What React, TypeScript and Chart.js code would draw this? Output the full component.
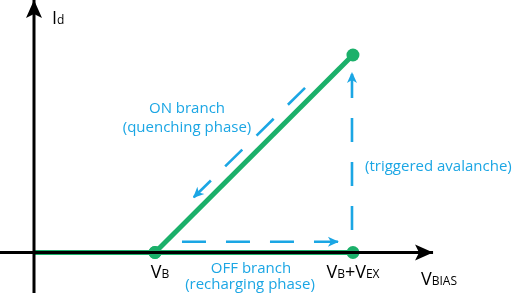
import React, { useEffect, useRef } from 'react';
import { Chart, registerables } from 'chart.js';

Chart.register(...registerables);

// ---- data (bias voltage in units of V_B, current in same plot units) ----
const V_B = 1.0;
const V_B_PLUS_EX = 2.636;
const I_TOP = 1.632;

const offBranchX = [0, V_B, V_B_PLUS_EX];
const offBranchY = [0, 0, 0];
const onBranchX = [V_B, V_B_PLUS_EX];
const onBranchY = [0, I_TOP];

const xAxisLineX = [-0.29, 3.298];
const xAxisLineY = [0, 0];
const yAxisLineX = [0, 0];
const yAxisLineY = [-0.335, 2.087];

const rechargeArrowX = [1.223, 2.52];
const rechargeArrowY = [0.089, 0.089];
const avalancheArrowX = [2.628, 2.628];
const avalancheArrowY = [0.186, 1.492];
const quenchArrowX = [2.24, 1.314];
const quenchArrowY = [1.36, 0.45];

const onLabel = ['ON branch', '(quenching phase)'];
const offLabel = ['OFF branch', '(recharging phase)'];
const avalancheLabel = '(triggered avalanche)';
const vbLabel = [['V', 'main'], ['B', 'sub']];
const vbexLabel = [['V', 'main'], ['B', 'sub'], ['+', 'main'], ['V', 'main'], ['EX', 'sub']];
const vbiasLabel = [['V', 'main'], ['BIAS', 'sub']];
const idLabel = [['I', 'main'], ['d', 'sub']];

const X_MIN = -34 / 121;
const X_MAX = 478 / 121;
const Y_MIN = -43.5 / 121;
const Y_MAX = 252.5 / 121;

const GREEN = '#1bb06a';
const BLUE = '#1ba6e4';
const BLACK = '#000000';
const FONT = '"Open Sans", "Noto Sans", sans-serif';

const pts = (xs: number[], ys: number[]) => xs.map((x, i) => ({ x, y: ys[i] }));

function drawArrowHead(ctx: CanvasRenderingContext2D, x0: number, y0: number, x1: number, y1: number, len: number, half: number, notch: number, color: string) {
  const a = Math.atan2(y1 - y0, x1 - x0);
  ctx.save();
  ctx.translate(x1, y1);
  ctx.rotate(a);
  ctx.beginPath();
  ctx.moveTo(0, 0);
  ctx.lineTo(-len, -half);
  ctx.lineTo(-len + notch, 0);
  ctx.lineTo(-len, half);
  ctx.closePath();
  ctx.fillStyle = color;
  ctx.fill();
  ctx.restore();
}

function drawParts(ctx: CanvasRenderingContext2D, parts: string[][], x: number, baseline: number, align: 'left' | 'center', mainSize: number, subSize: number, color: string) {
  const fontOf = (k: string) => `${k === 'main' ? mainSize : subSize}px ${FONT}`;
  let total = 0;
  for (const [t, k] of parts) {
    ctx.font = fontOf(k);
    total += ctx.measureText(t).width;
  }
  let cx = align === 'center' ? x - total / 2 : x;
  ctx.fillStyle = color;
  ctx.textBaseline = 'alphabetic';
  ctx.textAlign = 'left';
  for (const [t, k] of parts) {
    ctx.font = fontOf(k);
    ctx.fillText(t, cx, baseline);
    cx += ctx.measureText(t).width;
  }
}

const arrowPlugin = {
  id: 'arrowHeads',
  afterDatasetsDraw(chart: any) {
    const ctx = chart.ctx as CanvasRenderingContext2D;
    chart.data.datasets.forEach((ds: any, i: number) => {
      if (!ds.arrowHead) return;
      const meta = chart.getDatasetMeta(i);
      const n = meta.data.length;
      const p0 = meta.data[n - 2];
      const p1 = meta.data[n - 1];
      const h = ds.arrowHead;
      drawArrowHead(ctx, p0.x, p0.y, p1.x, p1.y, h.len, h.half, h.notch, ds.borderColor);
    });
  },
};

const labelPlugin = {
  id: 'labels',
  afterDraw(chart: any) {
    const ctx = chart.ctx as CanvasRenderingContext2D;
    const xs = chart.scales.x;
    const px = (v: number) => xs.getPixelForValue(v);
    ctx.save();
    ctx.fillStyle = BLUE;
    ctx.textAlign = 'center';
    ctx.textBaseline = 'alphabetic';
    ctx.font = `15px ${FONT}`;
    ctx.fillText(onLabel[0], 187, 113);
    ctx.fillText(onLabel[1], 187, 132);
    ctx.fillText(offLabel[0], 251, 273);
    ctx.fillText(offLabel[1], 250, 289);
    ctx.textAlign = 'left';
    ctx.fillText(avalancheLabel, 365, 171);
    drawParts(ctx, vbLabel, px(V_B) + 5, 278, 'center', 18, 12, BLACK);
    drawParts(ctx, vbexLabel, px(V_B_PLUS_EX), 278, 'center', 18, 12, BLACK);
    drawParts(ctx, vbiasLabel, 421, 285, 'left', 18, 12, BLACK);
    drawParts(ctx, idLabel, 52, 24, 'left', 18, 12, BLACK);
    ctx.restore();
  },
};

export default function App() {
  const ref = useRef<HTMLCanvasElement | null>(null);
  useEffect(() => {
    if (!ref.current) return;
    const dashed = (xs: number[], ys: number[]) => ({
      data: pts(xs, ys),
      borderColor: BLUE,
      borderWidth: 2.6,
      borderDash: [24, 20],
      pointRadius: 0,
      showLine: true,
      fill: false,
      clip: false,
      arrowHead: { len: 11, half: 5, notch: 3 },
    });
    const chart = new Chart(ref.current, {
      type: 'scatter',
      data: {
        datasets: [
          { data: pts(xAxisLineX, xAxisLineY), borderColor: BLACK, borderWidth: 3, pointRadius: 0, showLine: true, clip: false, arrowHead: { len: 18, half: 8, notch: 4 } } as any,
          { data: pts(yAxisLineX, yAxisLineY), borderColor: BLACK, borderWidth: 3, pointRadius: 0, showLine: true, clip: false, arrowHead: { len: 18, half: 8, notch: 4 } } as any,
          dashed(rechargeArrowX, rechargeArrowY) as any,
          dashed(avalancheArrowX, avalancheArrowY) as any,
          dashed(quenchArrowX, quenchArrowY) as any,
          { data: pts(offBranchX, offBranchY), borderColor: GREEN, backgroundColor: GREEN, borderWidth: 5, pointRadius: [0, 6.5, 6.5], pointBorderWidth: 0, showLine: true, clip: false } as any,
          { data: pts(onBranchX, onBranchY), borderColor: GREEN, backgroundColor: GREEN, borderWidth: 5, pointRadius: [6.5, 6.5], pointBorderWidth: 0, showLine: true, clip: false } as any,
        ],
      },
      options: {
        responsive: false,
        animation: false,
        layout: { padding: 0, autoPadding: false },
        plugins: { legend: { display: false }, tooltip: { enabled: false } },
        scales: {
          x: { type: 'linear', min: X_MIN, max: X_MAX, display: false },
          y: { type: 'linear', min: Y_MIN, max: Y_MAX, display: false },
        },
      },
      plugins: [arrowPlugin, labelPlugin],
    });
    return () => chart.destroy();
  }, []);
  return (
    <div style={{ position: 'fixed', left: 0, top: 0, width: 512, height: 296, background: '#fff' }}>
      <canvas ref={ref} width={512} height={296} style={{ display: 'block', width: 512, height: 296 }} />
    </div>
  );
}
